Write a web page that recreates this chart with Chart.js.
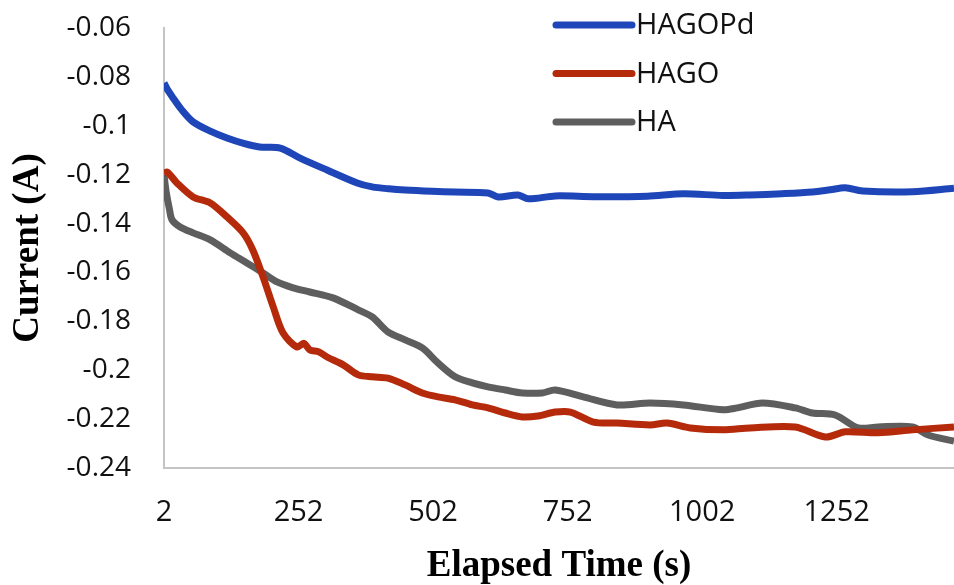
<!DOCTYPE html>
<html>
<head>
<meta charset="utf-8">
<script src="https://cdn.jsdelivr.net/npm/chart.js@4/dist/chart.umd.min.js"></script>
<style>
  html, body { margin: 0; padding: 0; background: #fff; }
  #wrap { width: 954px; height: 585px; position: relative; }
</style>
</head>
<body>
<div id="wrap"><canvas id="current-chart"></canvas></div>
<script>
// elapsed time (s) and current (A) for each coating
var hagopdTime = [2, 8, 17, 35, 56, 88, 119, 150, 180, 218, 255, 305, 361, 389, 420, 450, 500, 543, 604, 623, 660, 679, 729, 800, 900, 967, 1040, 1091, 1150, 1207, 1240, 1268, 1300, 1393, 1470];
var hagopdCurrent = [-0.0825, -0.0850, -0.0880, -0.0935, -0.0984, -0.1022, -0.1050, -0.1072, -0.1087, -0.1091, -0.1132, -0.1181, -0.1234, -0.1250, -0.1258, -0.1263, -0.1268, -0.1271, -0.1275, -0.1291, -0.1283, -0.1299, -0.1287, -0.1290, -0.1288, -0.1278, -0.1285, -0.1283, -0.1278, -0.1271, -0.1262, -0.1254, -0.1267, -0.1270, -0.1256];

var hagoTime = [2, 8, 26, 56, 88, 119, 149, 167, 186, 205, 223, 249, 262, 273, 290, 305, 335, 363, 389, 418, 450, 482, 511, 543, 575, 604, 636, 668, 697, 729, 757, 800, 844, 905, 937, 980, 1041, 1091, 1175, 1231, 1268, 1329, 1393, 1470];
var hagoCurrent = [-0.1195, -0.1189, -0.1234, -0.1291, -0.1316, -0.1373, -0.1438, -0.1508, -0.1618, -0.1741, -0.1847, -0.1905, -0.1890, -0.1917, -0.1925, -0.1946, -0.1978, -0.2019, -0.2027, -0.2032, -0.2060, -0.2093, -0.2109, -0.2121, -0.2142, -0.2154, -0.2175, -0.2191, -0.2187, -0.2171, -0.2171, -0.2212, -0.2216, -0.2224, -0.2216, -0.2236, -0.2244, -0.2236, -0.2232, -0.2273, -0.2252, -0.2256, -0.2244, -0.2232];

var haTime = [2, 6, 12, 17, 32, 56, 88, 125, 156, 186, 212, 242, 273, 316, 363, 389, 418, 450, 482, 511, 543, 575, 604, 636, 668, 705, 729, 781, 844, 905, 967, 1041, 1067, 1114, 1175, 1207, 1249, 1292, 1329, 1393, 1422, 1470];
var haCurrent = [-0.1200, -0.1270, -0.1340, -0.1385, -0.1414, -0.1438, -0.1467, -0.1520, -0.1561, -0.1602, -0.1639, -0.1663, -0.1680, -0.1704, -0.1753, -0.1782, -0.1843, -0.1876, -0.1909, -0.1970, -0.2027, -0.2052, -0.2068, -0.2081, -0.2093, -0.2093, -0.2081, -0.2109, -0.2142, -0.2134, -0.2142, -0.2162, -0.2154, -0.2134, -0.2154, -0.2175, -0.2183, -0.2236, -0.2232, -0.2232, -0.2265, -0.2290];

var timeTicks = [2, 252, 502, 752, 1002, 1252];

function toPoints(xs, ys) {
    return xs.map(function (x, i) { return { x: x, y: ys[i] }; });
}

// legend drawn as lines with labels in the upper right
var lineLegend = {
    id: 'lineLegend',
    afterDraw: function (chart) {
        var ctx = chart.ctx;
        ctx.save();
        chart.data.datasets.forEach(function (ds, i) {
            var y = 25 + i * 48.5;
            ctx.strokeStyle = ds.borderColor;
            ctx.lineWidth = 7;
            ctx.lineCap = 'round';
            ctx.beginPath();
            ctx.moveTo(556, y);
            ctx.lineTo(632, y);
            ctx.stroke();
            ctx.fillStyle = '#111';
            ctx.font = '29px "Open Sans"';
            ctx.textBaseline = 'middle';
            ctx.textAlign = 'left';
            ctx.fillText(ds.label, 636, y + 1);
        });
        ctx.restore();
    }
};

new Chart(document.getElementById('current-chart'), {
    type: 'line',
    data: {
        datasets: [
            {
                label: 'HAGOPd',
                data: toPoints(hagopdTime, hagopdCurrent),
                borderColor: '#1e46b8',
                borderWidth: 7,
                pointRadius: 0,
                tension: 0.3
            },
            {
                label: 'HAGO',
                data: toPoints(hagoTime, hagoCurrent),
                borderColor: '#b52a0b',
                borderWidth: 7,
                pointRadius: 0,
                tension: 0.3
            },
            {
                label: 'HA',
                data: toPoints(haTime, haCurrent),
                borderColor: '#5e5e5e',
                borderWidth: 7,
                pointRadius: 0,
                tension: 0.3
            }
        ]
    },
    options: {
        responsive: true,
        maintainAspectRatio: false,
        animation: false,
        layout: { padding: { top: 28, right: 0, left: 0, bottom: 0 } },
        plugins: {
            legend: { display: false },
            tooltip: { enabled: false }
        },
        scales: {
            x: {
                type: 'linear',
                min: 2,
                max: 1470,
                afterBuildTicks: function (axis) {
                    axis.ticks = timeTicks.map(function (v) { return { value: v }; });
                },
                afterFit: function (axis) { axis.height = 117; },
                grid: { display: false, drawTicks: false },
                border: { display: true, color: '#c4c4c4', width: 2 },
                ticks: {
                    color: '#111',
                    padding: 27,
                    maxRotation: 0,
                    font: { family: 'Open Sans', size: 29 },
                    callback: function (v) { return String(v); }
                },
                title: {
                    display: true,
                    text: 'Elapsed Time (s)',
                    color: '#000',
                    padding: { top: 0, bottom: 0 },
                    font: { family: 'Liberation Serif', size: 37, weight: 'bold', lineHeight: 1 }
                }
            },
            y: {
                min: -0.24,
                max: -0.06,
                afterFit: function (axis) {
                    axis.width = 164;
                    // label padding is horizontal only, keep it off the top/bottom
                    axis.paddingTop = 0;
                    axis.paddingBottom = 0;
                },
                grid: { display: false, drawTicks: false },
                border: { display: true, color: '#c4c4c4', width: 2 },
                ticks: {
                    stepSize: 0.02,
                    color: '#111',
                    padding: 33,
                    font: { family: 'Open Sans', size: 28 },
                    callback: function (v) { return String(Number(v.toFixed(2))); }
                },
                title: {
                    display: true,
                    text: 'Current (A)',
                    color: '#000',
                    padding: { top: 10, bottom: 0 },
                    font: { family: 'Liberation Serif', size: 37, weight: 'bold', lineHeight: 1 }
                }
            }
        }
    },
    plugins: [lineLegend]
});
</script>
</body>
</html>
